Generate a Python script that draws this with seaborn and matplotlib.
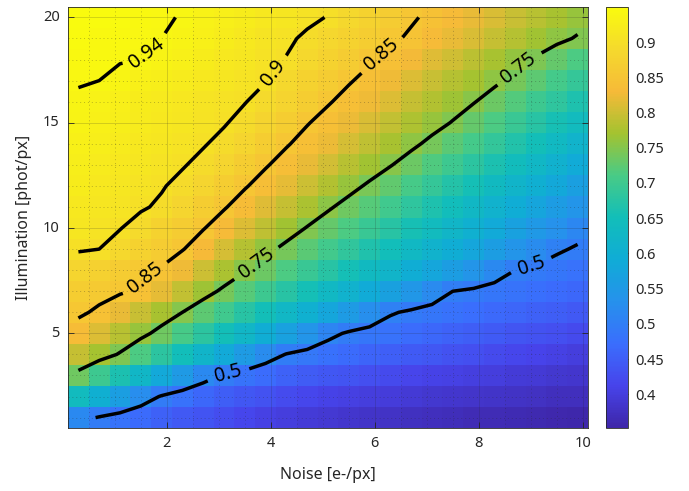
import numpy as np
import pandas as pd
import matplotlib
matplotlib.use("Agg")
import matplotlib.pyplot as plt
import seaborn as sns
from matplotlib.colors import LinearSegmentedColormap

sns.set_theme(style="white")
plt.rcParams["font.family"] = ["Noto Sans", "DejaVu Sans"]

# ---------------- data ----------------
noise = [0.3, 0.7, 1.1, 1.5, 1.9, 2.3, 2.7, 3.1, 3.5, 3.9, 4.3, 4.7, 5.1,
         5.5, 5.9, 6.3, 6.7, 7.1, 7.5, 7.9, 8.3, 8.7, 9.1, 9.5, 9.9]
illumination = list(range(1, 21))
quality = [
    [0.519,0.496,0.482,0.468,0.454,0.443,0.434,0.425,0.416,0.407,0.401,0.396,0.391,0.386,0.381,0.378,0.375,0.372,0.369,0.366,0.364,0.362,0.360,0.358,0.356],
    [0.640,0.600,0.561,0.526,0.496,0.479,0.463,0.448,0.440,0.432,0.424,0.416,0.409,0.405,0.401,0.397,0.393,0.389,0.387,0.384,0.381,0.379,0.376,0.373,0.371],
    [0.736,0.698,0.661,0.623,0.585,0.551,0.520,0.495,0.482,0.469,0.456,0.447,0.440,0.434,0.428,0.421,0.415,0.409,0.406,0.403,0.399,0.396,0.393,0.389,0.386],
    [0.794,0.771,0.746,0.714,0.681,0.649,0.617,0.586,0.555,0.523,0.498,0.488,0.478,0.468,0.458,0.451,0.445,0.439,0.433,0.427,0.421,0.416,0.411,0.406,0.401],
    [0.834,0.810,0.786,0.762,0.736,0.708,0.680,0.651,0.623,0.595,0.567,0.539,0.511,0.495,0.487,0.479,0.471,0.463,0.455,0.449,0.444,0.438,0.433,0.427,0.421],
    [0.856,0.844,0.821,0.797,0.774,0.750,0.725,0.701,0.676,0.652,0.627,0.603,0.578,0.553,0.529,0.504,0.494,0.487,0.479,0.472,0.466,0.460,0.454,0.448,0.442],
    [0.866,0.861,0.855,0.844,0.818,0.792,0.766,0.742,0.720,0.698,0.676,0.654,0.632,0.610,0.588,0.566,0.544,0.522,0.500,0.494,0.487,0.481,0.474,0.468,0.462],
    [0.880,0.873,0.865,0.857,0.847,0.824,0.800,0.776,0.753,0.733,0.714,0.694,0.675,0.655,0.636,0.616,0.597,0.578,0.558,0.539,0.519,0.500,0.493,0.486,0.480],
    [0.903,0.900,0.889,0.877,0.864,0.852,0.830,0.806,0.783,0.760,0.740,0.722,0.703,0.685,0.667,0.649,0.631,0.613,0.595,0.577,0.559,0.541,0.523,0.505,0.496],
    [0.911,0.906,0.901,0.890,0.877,0.865,0.852,0.832,0.811,0.789,0.768,0.748,0.730,0.712,0.694,0.676,0.658,0.640,0.622,0.604,0.586,0.568,0.550,0.532,0.514],
    [0.917,0.912,0.908,0.903,0.896,0.882,0.867,0.853,0.834,0.814,0.794,0.775,0.755,0.737,0.719,0.701,0.683,0.665,0.647,0.629,0.611,0.593,0.575,0.557,0.539],
    [0.922,0.917,0.912,0.907,0.902,0.893,0.880,0.867,0.853,0.836,0.818,0.800,0.781,0.762,0.744,0.726,0.708,0.690,0.672,0.654,0.636,0.618,0.600,0.582,0.564],
    [0.926,0.921,0.916,0.912,0.907,0.902,0.893,0.880,0.867,0.853,0.837,0.820,0.803,0.786,0.769,0.752,0.734,0.716,0.698,0.680,0.662,0.644,0.626,0.608,0.590],
    [0.930,0.925,0.921,0.916,0.911,0.907,0.902,0.893,0.880,0.867,0.853,0.838,0.822,0.806,0.790,0.774,0.758,0.741,0.723,0.705,0.687,0.669,0.651,0.633,0.615],
    [0.934,0.930,0.925,0.920,0.916,0.911,0.906,0.902,0.892,0.879,0.866,0.852,0.838,0.823,0.808,0.793,0.778,0.763,0.748,0.730,0.712,0.694,0.676,0.658,0.640],
    [0.936,0.932,0.927,0.923,0.918,0.914,0.910,0.905,0.901,0.891,0.878,0.866,0.853,0.839,0.825,0.810,0.795,0.781,0.766,0.752,0.735,0.717,0.700,0.682,0.664],
    [0.942,0.940,0.936,0.931,0.926,0.921,0.916,0.911,0.906,0.901,0.889,0.877,0.865,0.853,0.840,0.826,0.812,0.798,0.784,0.771,0.757,0.741,0.724,0.707,0.689],
    [0.944,0.943,0.941,0.940,0.935,0.929,0.923,0.917,0.911,0.905,0.899,0.888,0.876,0.865,0.854,0.842,0.828,0.814,0.801,0.787,0.774,0.760,0.746,0.730,0.714],
    [0.947,0.945,0.944,0.942,0.940,0.935,0.929,0.923,0.916,0.910,0.904,0.896,0.886,0.876,0.866,0.856,0.845,0.833,0.820,0.808,0.795,0.783,0.770,0.758,0.747],
    [0.950,0.948,0.946,0.944,0.942,0.939,0.933,0.927,0.922,0.916,0.911,0.905,0.899,0.888,0.876,0.865,0.854,0.843,0.831,0.820,0.809,0.797,0.786,0.774,0.763],
]
contour_levels = [0.5, 0.75, 0.85, 0.9, 0.94]
x_ticks = [2, 4, 6, 8, 10]
y_ticks = [5, 10, 15, 20]
cbar_ticks = [0.4, 0.45, 0.5, 0.55, 0.6, 0.65, 0.7, 0.75, 0.8, 0.85, 0.9]

# ---------------- styling ----------------
parula_anchors = [(0.0, (62, 38, 168)), (0.1, (71, 68, 235)), (0.2, (58, 110, 253)),
                  (0.3, (38, 145, 236)), (0.4, (16, 172, 214)), (0.5, (18, 190, 185)),
                  (0.6, (72, 203, 134)), (0.7, (163, 195, 48)), (0.8, (246, 186, 56)),
                  (0.9, (245, 217, 45)), (1.0, (249, 251, 14))]
parula = LinearSegmentedColormap.from_list(
    "parula_like", [(p, tuple(c / 255 for c in rgb)) for p, rgb in parula_anchors])
dark = (0.15, 0.15, 0.15)

cell_w = 0.4
x_origin = 0.1
y_origin = 0.5


def xi(v):
    return (np.asarray(v, dtype=float) - x_origin) / cell_w


def yi(v):
    return np.asarray(v, dtype=float) - y_origin


fig = plt.figure(figsize=(6.89, 4.91), dpi=100)
ax = fig.add_axes([0.0987, 0.128, 0.7547, 0.858])
cax = fig.add_axes([0.8795, 0.128, 0.032, 0.858])

df = pd.DataFrame(quality, index=illumination, columns=noise)
sns.heatmap(df, ax=ax, cbar_ax=cax, cmap=parula, vmin=0.352, vmax=0.95, cbar=True)
ax.set_xlim(0, len(noise))
ax.set_ylim(0, len(illumination))

cs = ax.contour(xi(noise), yi(illumination), np.array(quality), levels=contour_levels,
                colors="black", linewidths=2.5, zorder=3)
label_spots = [(1.64, 18.24), (4.03, 17.4), (6.14, 18.2), (1.62, 7.5),
               (8.8, 17.5), (3.7, 8.4), (3.17, 3.2), (9.0, 8.33)]
ax.clabel(cs, fmt="%g", fontsize=14, inline=True, inline_spacing=8, colors="black",
          manual=[(float(xi(a)), float(yi(b))) for a, b in label_spots])

ax.set_xticks(xi(x_ticks))
ax.set_xticklabels([str(t) for t in x_ticks], rotation=0)
ax.set_yticks(yi(y_ticks))
ax.set_yticklabels([str(t) for t in y_ticks], rotation=0)
ax.set_xticks(xi(np.arange(0.5, 10.01, 0.5)), minor=True)
ax.set_yticks(yi(np.arange(1, 20.01, 1)), minor=True)

ax.set_axisbelow(False)
ax.grid(True, which="major", color=dark, alpha=0.18, linewidth=0.7, linestyle="-")
ax.grid(True, which="minor", color=dark, alpha=0.3, linewidth=0.7, linestyle=(0, (1, 3)))
ax.tick_params(which="major", direction="in", length=4, width=0.6, color=dark,
               top=True, right=True, bottom=True, left=True,
               labelsize=10.5, labelcolor=dark, pad=6)
ax.tick_params(which="minor", length=0)
for s in ax.spines.values():
    s.set_visible(True)
    s.set_color(dark)
    s.set_linewidth(0.6)

ax.set_xlabel("Noise [e-/px]", fontsize=11.5, color=dark, labelpad=11)
ax.set_ylabel("Illumination [phot/px]", fontsize=11.5, color=dark, labelpad=8)

cb = ax.collections[0].colorbar
cb.set_ticks(cbar_ticks)
cb.set_ticklabels([f"{t:g}" for t in cbar_ticks])
cb.outline.set_visible(True)
cb.outline.set_linewidth(0.6)
cb.outline.set_edgecolor(dark)
cax.tick_params(direction="in", length=4, width=0.6, color=dark, labelsize=10.5,
                labelcolor=dark, right=True, left=False, pad=5)

fig.savefig("out.png", dpi=100)
